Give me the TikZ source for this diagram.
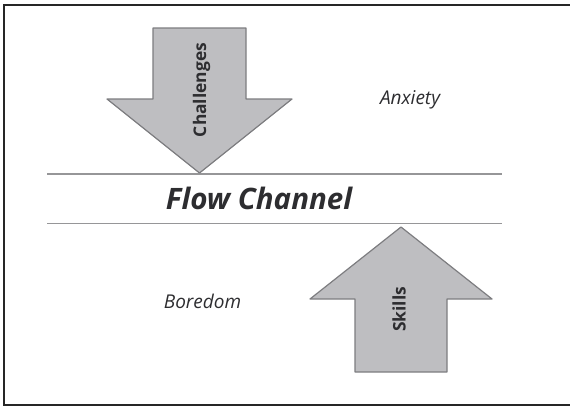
\documentclass[tikz,border=0pt]{standalone}
\usepackage{fontspec}
\setmainfont{Open Sans}
\definecolor{arrowfill}{RGB}{190,190,193}
\definecolor{arrowedge}{RGB}{125,125,128}
\definecolor{rulegray}{RGB}{150,150,152}
\definecolor{textgray}{RGB}{45,45,48}
\begin{document}
\begin{tikzpicture}[x=1pt, y=-1pt,
    bigarrow/.style={fill=arrowfill, draw=arrowedge, line width=1.2pt, line join=round},
    arrowtext/.style={rotate=90, text=textgray, font=\fontsize{17.4}{17.4}\selectfont\bfseries},
    zonetext/.style={text=textgray, font=\fontsize{19}{19}\selectfont\itshape}]
  \useasboundingbox (0,0) rectangle (570,407);

  \newcommand\Lft{47};
  \newcommand\Rgt{502};

  %% frame (open on the right)
  \draw[line width=2pt, draw=black!85] (570,5) -- (4,5) -- (4,405) -- (570,405);

  %% channel borders
  \coordinate (topL) at (\Lft,174);
  \coordinate (topR) at (\Rgt,174);
  \coordinate (botL) at (\Lft,223.5);
  \coordinate (botR) at (\Rgt,223.5);
  \draw[rulegray, line width=1.2pt] (topL) -- (topR);
  \draw[rulegray, line width=1.2pt] (botL) -- (botR);

  %% challenges arrow (down)
  \draw[bigarrow] (153,28) -- (246,28) -- (246,99) -- (292,99)
    -- (199.5,173) -- (107,99) -- (153,99) -- cycle;
  %% skills arrow (up)
  \draw[bigarrow] (355,372) -- (447,372) -- (447,299) -- (492,299)
    -- (401,227) -- (310,299) -- (355,299) -- cycle;

  \node[arrowtext] (challenges) at (201.5,90) {Challenges};
  \node[arrowtext] (skills) at (399,309.5) {Skills};

  \node[text=textgray, font=\fontsize{29.5}{29.5}\selectfont\bfseries\itshape] (flow) at (259,198.5) {Flow Channel};
  \node[zonetext] (anxiety) at (410,100) {Anxiety};
  \node[zonetext] (boredom) at (202.5,301.5) {Boredom};
\end{tikzpicture}
\end{document}
